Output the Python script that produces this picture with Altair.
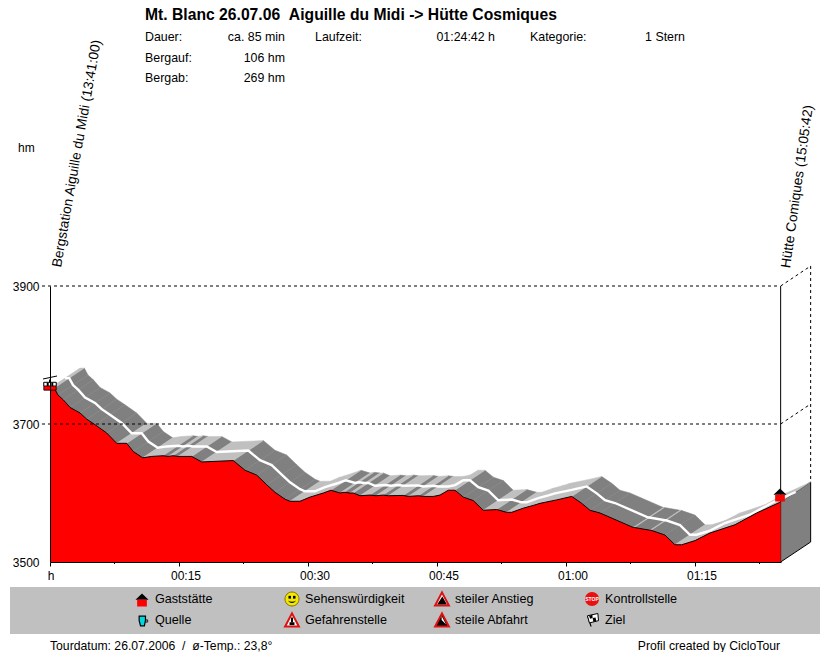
import altair as alt
import pandas as pd

# profile: minutes since start, altitude in hm
minutes = [0,0.5,0.93,1.55,2.33,3.49,4.27,5.23,6.59,7.76,8.92,9.69,10.78,11.83,13.14,13.72,14.30,14.88,16.48,17.64,21.31,
           22.67,24.03,25.2,26.16,27.33,27.9,29.07,30.23,31.78,32.67,33.72,34.19,34.88,35.27,36.05,37.21,37.91,38.76,39.34,
           41.08,41.66,42.83,43.41,44.57,45.35,46.31,47.09,48.06,49.22,50.38,51.94,53.1,53.69,55.03,56.2,56.98,58.92,60.66,
           61.83,62.79,63.95,67.83,67.95,69.77,69.89,71.51,72.67,73.45,75,76.74,79.65,82.17,84.96]
altitude = [3752,3752,3742,3735,3724,3716,3707,3699,3687,3672,3672,3660,3651,3653,3654,3653,3654,3653,3653,3645,3647,
            3633,3626,3612,3601,3591,3588,3588,3594,3600,3604,3600,3601,3600,3600,3596,3597,3596,3597,3596,
            3596.5,3595,3596,3595,3595,3597,3604,3604,3594,3589,3575,3576,3572,3572,3578,3582,3585,3590,3595,
            3585,3575,3571,3550,3550,3546,3546,3539,3525,3525,3531,3542,3554,3571,3587]
tick_minutes = [15,30,45,60,75]
tick_names = ["00:15","00:30","00:45","01:00","01:15"]
minor_ticks = [7.5,22.5,37.5,52.5,67.5,82.5]
y_ticks = [3500,3700,3900]
grid_levels = [3700,3900]
END = minutes[-1]
DT, DH = 30/8.6, 20/0.69   # 3-D depth of the ribbon
NB = "\u00a0"

FONT = "Liberation Sans"
one = pd.DataFrame({"a":[0]})
W, H = 731, 276

def px(x): return x-50
def py(y): return y-286

def txt(s, x, y, size=12.4, align="left", bold=False, angle=None, color="#000000", baseline="middle"):
    kw = dict(text=s, font=FONT, fontSize=size, align=align, baseline=baseline, color=color,
              fontWeight="bold" if bold else "normal")
    if angle is not None:
        kw["angle"] = angle
    return alt.Chart(one).mark_text(**kw).encode(x=alt.value(px(x)), y=alt.value(py(y)))

def icon(parts, cx, cy, w):
    out = []
    for path, fill, stroke, sw in parts:
        kw = dict(shape=path, size=w*w, filled=True, opacity=1, fill=fill, strokeWidth=sw)
        if stroke:
            kw["stroke"] = stroke
        else:
            kw["strokeWidth"] = 0
        out.append(alt.Chart(one).mark_point(**kw).encode(x=alt.value(px(cx)), y=alt.value(py(cy))))
    return out

xs = alt.X("t:Q", scale=alt.Scale(domain=[0,85], nice=False, zero=False, clamp=False),
          axis=alt.Axis(values=[0]+tick_minutes, title=None, grid=False, labels=False,
                        tickColor="#000", domainColor="#000", tickSize=4, zindex=1))
ys = alt.Y("h:Q", scale=alt.Scale(domain=[3500,3900], nice=False, zero=False),
          axis=alt.Axis(values=y_ticks, title=None, grid=False, labelFont=FONT, labelFontSize=12, labelColor="#000",
                        format="d", domainColor="#000", ticks=False, labelPadding=11, labelFlush=False,
                        labelOverlap=False, zindex=1))

profile = pd.DataFrame({"t":minutes,"h":altitude,"base":[y_ticks[0]]*len(minutes)})

rows = []
for i in range(len(minutes)-1):
    t0,t1,h0,h1 = minutes[i],minutes[i+1],altitude[i],altitude[i+1]
    kind = "dark" if h1 < h0 else "light"
    for k,(a,b) in enumerate([(t0,h0),(t1,h1),(t1+DT,h1+DH),(t0+DT,h0+DH),(t0,h0)]):
        rows.append(dict(seg=i,o=k,t=a,h=b,kind=kind))
faces = pd.DataFrame(rows)

def face_layer(kind, color):
    return alt.Chart(faces[faces.kind==kind]).mark_line(fill=color, stroke=color, strokeWidth=0.5, interpolate="linear").encode(
        x=xs, y=ys, detail="seg:N", order="o:Q")

def poly(ts, hs, **kw):
    d = pd.DataFrame({"t":ts,"h":hs,"o":range(len(ts))})
    return alt.Chart(d).mark_line(**kw).encode(x=xs, y=ys, order="o:Q")

white = pd.DataFrame({"t":[t+DT/2 for t in minutes],"h":[h+DH/2 for h in altitude]})
white_line = alt.Chart(white).mark_line(color="#ffffff", strokeWidth=2.4).encode(x=xs, y=ys)

side = poly([END,END+DT,END+DT,END,END],[3500,3500+DH,altitude[-1]+DH,altitude[-1],3500],
            fill="#808080", stroke="#000000", strokeWidth=1)
red = alt.Chart(profile).mark_area(color="#ff0000", opacity=1).encode(x=xs, y=ys, y2="base:Q")
edge = alt.Chart(profile).mark_line(color="#000000", strokeWidth=1).encode(x=xs, y=ys)

dash = [3,3]
grid = alt.Chart(pd.DataFrame({"h":grid_levels})).mark_rule(color="#000",strokeDash=dash,strokeWidth=1).encode(
    y=ys, x=alt.value(-8), x2=alt.value(px(780)))
diag = [poly([END,END+DT],[lv,lv+DH],color="#000",strokeDash=dash,strokeWidth=1) for lv in grid_levels]
back = poly([END+DT,END+DT],[3900+DH,altitude[-1]+DH],color="#000",strokeDash=dash,strokeWidth=1)
right = poly([END,END],[3900,altitude[-1]],color="#000",strokeWidth=1)
minor = alt.Chart(pd.DataFrame({"t":minor_ticks})).mark_rule(color="#000").encode(x=xs, y=alt.value(H), y2=alt.value(H+2))

# x labels sit to the right of their ticks in the original
x_labels = alt.Chart(pd.DataFrame({"t":tick_minutes,"lab":tick_names})).mark_text(
    font=FONT, fontSize=12, color="#000", dx=7).encode(x=xs, y=alt.value(py(576)), text="lab:N")
x_zero = alt.Chart(pd.DataFrame({"t":[0],"lab":["h"]})).mark_text(
    font=FONT, fontSize=12, color="#000", dx=1).encode(x=xs, y=alt.value(py(576)), text="lab:N")

# icons
HOUSE = [("M-1,-0.05L0,-1L1,-0.05Z","#000000",None,0),("M-0.75,-0.05H0.75V1H-0.75Z","#ff0000",None,0)]
CUP = [("M-0.7,-0.9H0.45V-0.1L0.25,0.9H-0.45L-0.7,-0.1Z","#00d8e0","#000000",1.2),
       ("M0.5,-0.2H0.85V0.2H0.5Z","#c0c0c0","#000000",0.8)]
CIRC = "M-1,0A1,1 0 1,1 1,0A1,1 0 1,1 -1,0Z"
SMILE = [(CIRC,"#f4e800","#807000",1),
         ("M-0.5,-0.45H-0.15V-0.05H-0.5Z","#000000",None,0),("M0.15,-0.45H0.5V-0.05H0.15Z","#000000",None,0),
         ("M-0.6,0.2Q0,0.95 0.6,0.2Q0,0.6 -0.6,0.2Z","#000000",None,0)]
TRI = "M0,-0.88L0.92,0.88H-0.92Z"
WARN = [(TRI,"#ffffff","#e01010",2),("M-0.13,-0.35H0.13V0.3H-0.13Z","#000000",None,0),
        ("M-0.33,0.3H0.33V0.68H-0.33Z","#000000",None,0)]
UP = [(TRI,"#ffffff","#e01010",2),("M-0.65,0.72L0.05,-0.35L0.65,0.72Z","#000000",None,0)]
DOWN = [(TRI,"#000000","#e01010",2),("M-0.05,-0.55L0.55,0.6L-0.05,0Z","#ffffff",None,0)]
STOP = [(CIRC,"#e81010",None,0)]
FLAG = [("M-0.75,-0.6L-0.25,1H-0.05L-0.55,-0.6Z","#000000",None,0),
        ("M-0.7,-0.65L0.9,-1L1,0.1L-0.4,0.45Z","#ffffff","#000000",1),
        ("M-0.45,-0.65L0.05,-0.8L0.1,-0.3L-0.3,-0.2Z","#000000",None,0),
        ("M0.1,-0.3L0.55,-0.4L0.65,0.15L0.2,0.25Z","#000000",None,0)]
CAR = [("M-0.95,-0.25H0.95V0.95H-0.95Z","#ff0000","#000000",0.8),
       ("M-0.95,-0.25H0.95V0.3H-0.95Z","#ffffff","#000000",0.8),
       ("M-0.5,-0.2H-0.2V0.3H-0.5Z","#000000",None,0),("M0.2,-0.2H0.5V0.3H0.2Z","#000000",None,0),
       ("M-0.15,-0.7H0.15V-0.25H-0.15Z","#000000",None,0)]
car_ropes = [alt.Chart(one).mark_rule(color="#000",strokeWidth=1).encode(
    x=alt.value(px(a)),x2=alt.value(px(b)),y=alt.value(py(c)),y2=alt.value(py(d)))
    for a,b,c,d in [(43,57,379,376)]]

legend_bg = alt.Chart(one).mark_rect(color="#c0c0c0").encode(
    x=alt.value(px(10)),x2=alt.value(px(820)),y=alt.value(py(587)),y2=alt.value(py(634)))

layers = [legend_bg, side, face_layer("dark","#808080"), face_layer("light","#c0c0c0"), white_line, red, edge,
          minor, right, back, grid, x_labels, x_zero] + diag + car_ropes

layers += icon(CAR,50,384,13) + icon(HOUSE,780,495,13)

layers += [
    txt(f"Mt. Blanc 26.07.06{NB}{NB}Aiguille du Midi -> Hütte Cosmiques",145,14.6,15.7,bold=True),
    txt("Dauer:",145,37), txt("ca. 85 min",285,37,align="right"),
    txt("Laufzeit:",315,37), txt("01:24:42 h",495,37,align="right"),
    txt("Kategorie:",530,37), txt("1 Stern",685,37,align="right"),
    txt("Bergauf:",145,58), txt("106 hm",285,58,align="right"),
    txt("Bergab:",145,78), txt("269 hm",285,78,align="right"),
    txt("hm",18,148,12),
    txt("Bergstation Aiguille du Midi (13:41:00)",57,267,13.7,angle=280),
    txt("Hütte Comiques (15:05:42)",786,268,13.7,angle=278),
]
legend_items = [("Gaststätte",155,599,HOUSE,142,600,13),("Quelle",155,620,CUP,143,621,11),
                ("Sehenswürdigkeit",305,599,SMILE,292,599,14),("Gefahrenstelle",305,620,WARN,292,620,15),
                ("steiler Anstieg",455,599,UP,442,599,15),("steile Abfahrt",455,620,DOWN,442,620,15),
                ("Kontrollstelle",605,599,STOP,592,599,14),("Ziel",605,620,FLAG,592,620,13)]
for lab,x,y,parts,cx,cy,w in legend_items:
    layers += icon(parts,cx,cy,w)
    layers.append(txt(lab,x,y,12.6))
layers.append(txt("STOP",592,599,5,align="center",bold=True,color="#ffffff"))
layers += [txt(f"Tourdatum: 26.07.2006{NB}{NB}/{NB}{NB}ø-Temp.: 23,8°",50,646,12.2),
           txt("Profil created by CicloTour",780,646,12.2,align="right")]

chart = alt.layer(*layers).properties(
    width=W, height=H, autosize=alt.AutoSizeParams(type="none"),
    padding={"left":42,"top":278,"right":40,"bottom":92}
).configure_view(stroke=None)
chart.save("out.html", embed_options={"renderer":"svg","actions":False})
